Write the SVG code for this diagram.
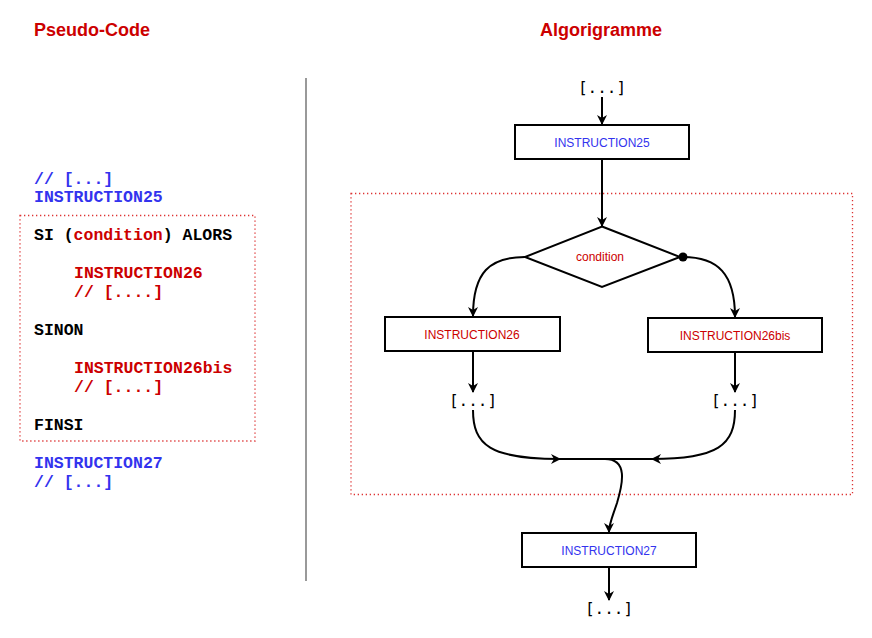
<svg xmlns="http://www.w3.org/2000/svg" width="872" height="638" viewBox="0 0 872 638">
<style>
.title{font-family:"Liberation Sans",Arial,sans-serif;font-weight:bold;font-size:18px;fill:#cc0000}
.code{font-family:"Liberation Mono","Courier New",monospace;font-weight:bold;font-size:16.5px}
.b{fill:#3333ee}.r{fill:#cc0000}.k{fill:#000}
.box{fill:#fff;stroke:#000;stroke-width:2}
.lbl{font-family:"Liberation Sans",Arial,sans-serif;font-size:12px;text-anchor:middle}
.dots{font-family:"DejaVu Sans Mono","Liberation Mono",monospace;font-size:16px;text-anchor:middle;fill:#000}
.frame{fill:none;stroke:#dd3333;stroke-width:1.3;stroke-dasharray:1.3 2.7}
.c{fill:none;stroke:#000;stroke-width:2}
</style>
<defs>
<marker id="ah" viewBox="0 0 10 10" refX="9" refY="5" markerWidth="5" markerHeight="5" orient="auto" markerUnits="strokeWidth">
<path d="M0,0 L10,5 L0,10 L3,5 z" fill="#000"/>
</marker>
</defs>
<rect width="872" height="638" fill="#fff"/>
<text class="title" x="34" y="36">Pseudo-Code</text>
<text class="title" x="601" y="36" text-anchor="middle">Algorigramme</text>
<line x1="306" y1="78" x2="306" y2="581" stroke="#999" stroke-width="2"/>
<g id="pseudocode">
<rect class="frame" x="20" y="215.5" width="235" height="225.5"/>
<text class="code b" x="34" y="184">// [...]</text>
<text class="code b" x="34" y="202">INSTRUCTION25</text>
<text class="code k" x="34" y="240">SI (<tspan class="r">condition</tspan>) ALORS</text>
<text class="code r" x="74" y="278">INSTRUCTION26</text>
<text class="code r" x="74" y="297">// [....]</text>
<text class="code k" x="34" y="335">SINON</text>
<text class="code r" x="74" y="373">INSTRUCTION26bis</text>
<text class="code r" x="74" y="392">// [....]</text>
<text class="code k" x="34" y="430">FINSI</text>
<text class="code b" x="34" y="468">INSTRUCTION27</text>
<text class="code b" x="34" y="487">// [...]</text>
</g>
<rect id="si-frame" class="frame" x="351" y="193.5" width="501.5" height="301"/>
<g id="connectors">
<line class="c" x1="602" y1="97" x2="602" y2="124" marker-end="url(#ah)"/>
<line class="c" x1="602" y1="159" x2="602" y2="226" marker-end="url(#ah)"/>
<path class="c" d="M525,257 C490,257 473,272 473,316" marker-end="url(#ah)"/>
<path class="c" d="M683,257 C718,257 735,274 735,317" marker-end="url(#ah)"/>
<line class="c" x1="473" y1="351" x2="473" y2="392" marker-end="url(#ah)"/>
<line class="c" x1="735" y1="352" x2="735" y2="392" marker-end="url(#ah)"/>
<path class="c" d="M473,410 C473,445 490,459 560,459" marker-end="url(#ah)"/>
<path class="c" d="M735,410 C735,445 718,459 652,459" marker-end="url(#ah)"/>
<line class="c" x1="558" y1="459" x2="654" y2="459"/>
<path class="c" d="M605,459 C628,459 623,483 617,503 C612,518 609,524 609,532" marker-end="url(#ah)"/>
<line class="c" x1="609" y1="567" x2="609" y2="600" marker-end="url(#ah)"/>
<circle cx="683" cy="257" r="4.5" fill="#000"/>
</g>
<g id="start"><text class="dots" x="602" y="93">[...]</text></g>
<g id="instr25"><rect class="box" x="515" y="125" width="174" height="34"/><text class="lbl b" x="602" y="147">INSTRUCTION25</text></g>
<g id="condition"><polygon points="602,226.5 680,257 602,287 525,257" fill="#fff" stroke="#000" stroke-width="2"/><text class="lbl r" x="600" y="261">condition</text></g>
<g id="instr26"><rect class="box" x="385" y="317" width="175" height="34"/><text class="lbl r" x="472" y="339">INSTRUCTION26</text></g>
<g id="instr26bis"><rect class="box" x="648" y="318" width="174" height="34"/><text class="lbl r" x="735" y="340">INSTRUCTION26bis</text></g>
<g id="dots26"><text class="dots" x="473" y="406">[...]</text></g>
<g id="dots26bis"><text class="dots" x="735" y="406">[...]</text></g>
<g id="instr27"><rect class="box" x="522" y="533" width="174" height="34"/><text class="lbl b" x="609" y="555">INSTRUCTION27</text></g>
<g id="end"><text class="dots" x="609" y="614">[...]</text></g>
</svg>
